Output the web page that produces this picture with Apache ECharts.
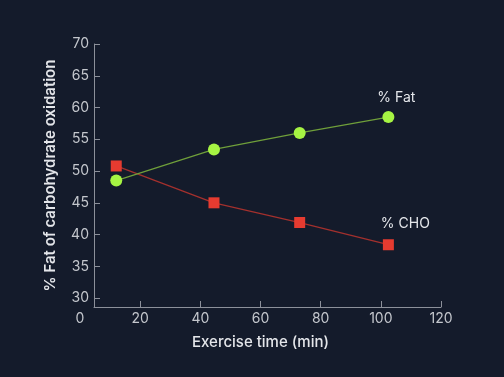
<!DOCTYPE html>
<html>
<head>
<meta charset="utf-8">
<script src="https://cdn.jsdelivr.net/npm/echarts@6/dist/echarts.min.js"></script>
<style>
  html, body { margin: 0; padding: 0; background: #141b2b; }
  #chart { width: 504px; height: 377px; }
</style>
</head>
<body>
<div id="chart"></div>
<script>
// exercise time (min) and oxidation shares (%)
var times = [12, 44.5, 73, 102.5];
var fatPct = [48.5, 53.4, 56, 58.5];
var choPct = [50.8, 45, 41.9, 38.4];
var xTicks = [20, 40, 60, 80, 100, 120];
var yTicks = [30, 35, 40, 45, 50, 55, 60, 65, 70];

var axisColor = '#8c909a';
var textColor = '#c4c7cd';
var font = 'Inter';

function pairs(xs, ys) {
    var out = [];
    for (var i = 0; i < xs.length; i++) {
        out.push([xs[i], ys[i]]);
    }
    return out;
}

function lastLabel(text) {
    return function (p) {
        return p.dataIndex === times.length - 1 ? text : '';
    };
}

var myChart = echarts.init(document.getElementById('chart'));
var option = {
    backgroundColor: '#141b2b',
    animation: false,
    grid: [
        { left: 94, right: 63, top: 44, bottom: 70 },
        { left: 80, right: 63, top: 44, bottom: 70 }
    ],
    xAxis: [{
        gridIndex: 0,
        type: 'value',
        min: 4.6,
        max: 120,
        axisLine: { show: true, lineStyle: { color: axisColor, width: 1 } },
        axisTick: { show: true, inside: true, length: 6, customValues: xTicks, lineStyle: { color: axisColor } },
        axisLabel: { show: false },
        splitLine: { show: false }
    }, {
        // labels only, axis starts at 0
        gridIndex: 1,
        type: 'value',
        min: 0,
        max: 120,
        interval: 20,
        axisLine: { show: false },
        axisTick: { show: false },
        axisLabel: { margin: 5, color: textColor, fontFamily: font, fontSize: 14 },
        splitLine: { show: false },
        name: 'Exercise time (min)',
        nameLocation: 'middle',
        nameGap: 28,
        nameTextStyle: { color: '#e4e6ea', fontFamily: font, fontSize: 15, fontWeight: 500 }
    }],
    yAxis: [{
        gridIndex: 0,
        type: 'value',
        min: 28.6,
        max: 70,
        axisLine: { show: true, lineStyle: { color: axisColor, width: 1 } },
        axisTick: { show: true, inside: true, length: 6, customValues: yTicks, lineStyle: { color: axisColor } },
        axisLabel: { margin: 5, customValues: yTicks, color: textColor, fontFamily: font, fontSize: 14 },
        splitLine: { show: false },
        name: '% Fat of carbohydrate oxidation',
        nameLocation: 'middle',
        nameGap: 36,
        nameTextStyle: { color: '#e4e6ea', fontFamily: font, fontSize: 15, fontWeight: 600 }
    }, {
        gridIndex: 1,
        type: 'value',
        min: 28.6,
        max: 70,
        show: false
    }],
    series: [{
        name: '% Fat',
        type: 'line',
        xAxisIndex: 0,
        yAxisIndex: 0,
        data: pairs(times, fatPct),
        symbol: 'circle',
        symbolSize: 12,
        lineStyle: { color: '#6f9f3a', width: 1.3 },
        itemStyle: { color: '#a6f443' },
        label: {
            show: true,
            position: 'top',
            distance: 6,
            offset: [8, 0],
            formatter: lastLabel('% Fat'),
            color: '#e4e6ea',
            fontFamily: font,
            fontSize: 14
        },
        z: 3
    }, {
        name: '% CHO',
        type: 'line',
        xAxisIndex: 0,
        yAxisIndex: 0,
        data: pairs(times, choPct),
        symbol: 'rect',
        symbolSize: 11,
        lineStyle: { color: '#a3302d', width: 1.3 },
        itemStyle: { color: '#e63b30' },
        label: {
            show: true,
            position: 'top',
            distance: 6,
            offset: [17, -2],
            formatter: lastLabel('% CHO'),
            color: '#e4e6ea',
            fontFamily: font,
            fontSize: 14
        },
        z: 2
    }]
};
myChart.setOption(option);
</script>
</body>
</html>
